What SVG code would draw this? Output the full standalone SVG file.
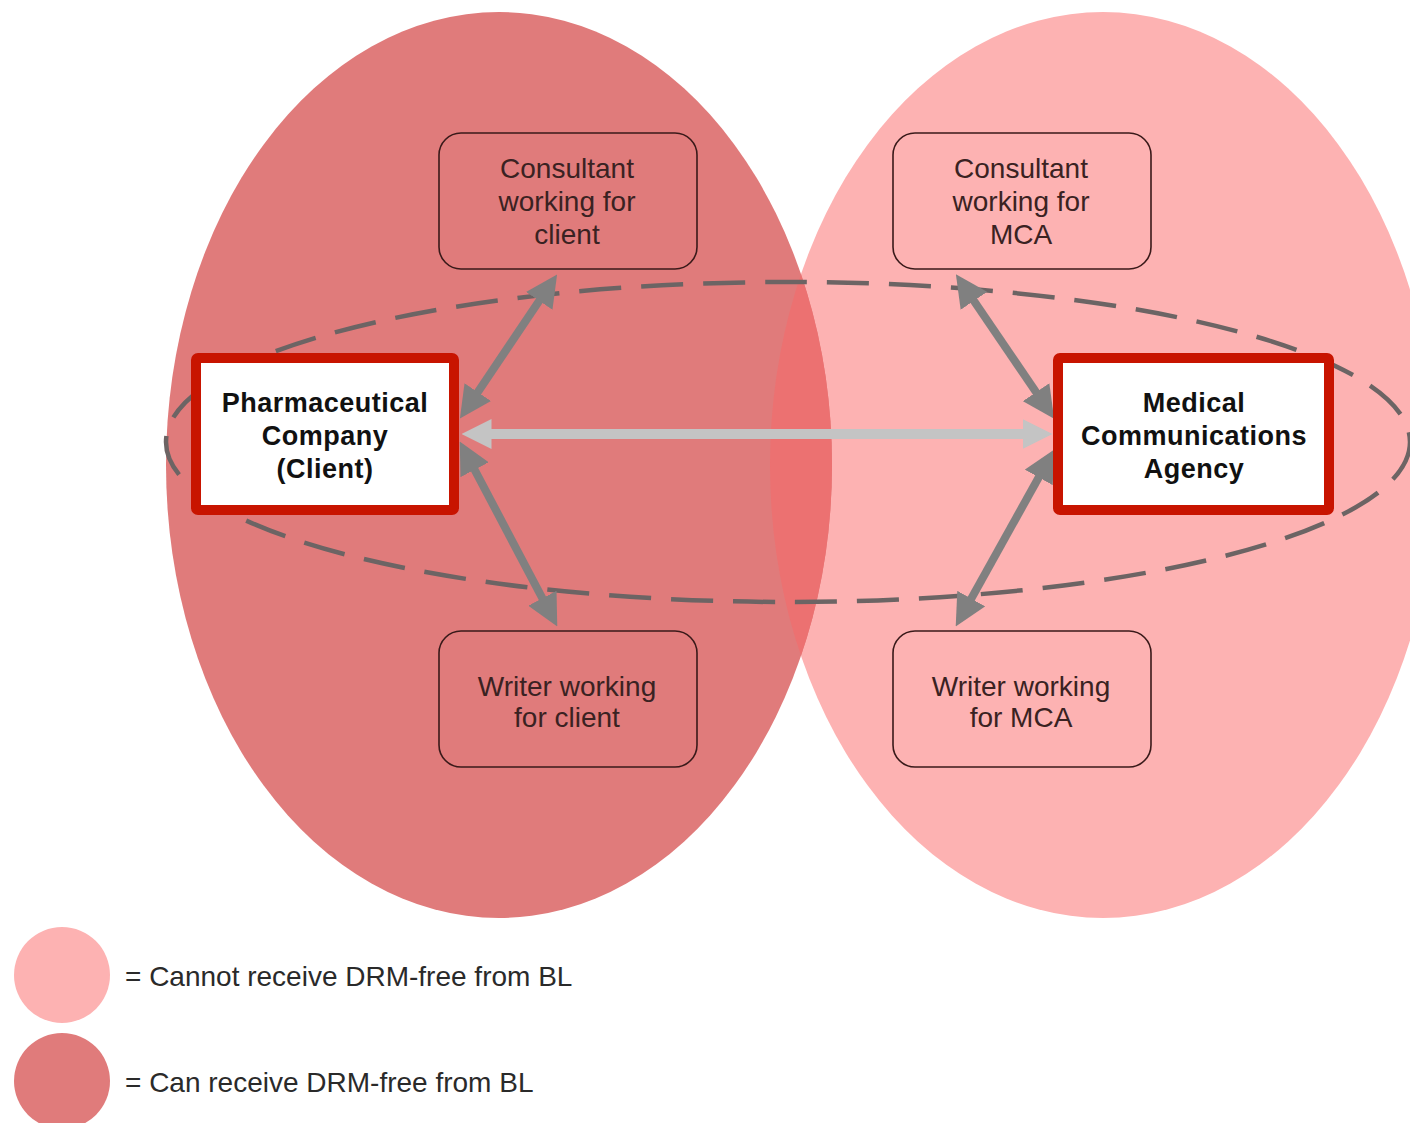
<svg xmlns="http://www.w3.org/2000/svg" width="1410" height="1123" viewBox="0 0 1410 1123">
  <style>
    .txt { font-family: "Liberation Sans", Arial, sans-serif; font-size: 28px; fill: #3a2222; text-anchor: middle; }
    .bold { font-family: "Liberation Sans", Arial, sans-serif; font-size: 27px; font-weight: bold; fill: #111; text-anchor: middle; letter-spacing: 0.5px; }
    .legend { font-family: "Liberation Sans", Arial, sans-serif; font-size: 28px; fill: #2a2a2a; }
    .role { fill: none; stroke: #3a1a1a; stroke-width: 1.6; }
    .key { fill: #fff; stroke: #c81400; stroke-width: 10; }
    .link { stroke: #808080; stroke-width: 8; fill: none; marker-start: url(#headDark); marker-end: url(#headDark); }
    .main { stroke: #c4c4c4; stroke-width: 10; fill: none; marker-start: url(#headLight); marker-end: url(#headLight); }
  </style>
  <defs>
    <marker id="headDark" viewBox="0 0 10 10" refX="0.5" refY="5" markerWidth="4" markerHeight="4" orient="auto-start-reverse">
      <path d="M0,0 L10,5 L0,10 z" fill="#808080"/>
    </marker>
    <marker id="headLight" viewBox="0 0 10 10" refX="0.5" refY="5" markerWidth="3" markerHeight="3.4" orient="auto-start-reverse">
      <path d="M0,0 L10,5 L0,10 z" fill="#c4c4c4"/>
    </marker>
    <clipPath id="leftZone">
      <ellipse cx="499" cy="465" rx="333" ry="453"/>
    </clipPath>
  </defs>

  <rect width="1410" height="1123" fill="#ffffff"/>

  <!-- zones -->
  <g id="zones">
    <ellipse cx="1103" cy="465" rx="333" ry="453" fill="#fdb2b2"/>
    <ellipse cx="499" cy="465" rx="333" ry="453" fill="#e07b7b"/>
    <ellipse cx="1103" cy="465" rx="333" ry="453" fill="#ec7171" clip-path="url(#leftZone)"/>
  </g>

  <!-- dashed grouping ring -->
  <ellipse id="ring" cx="788" cy="442" rx="622" ry="160" fill="none" stroke="#6c6464" stroke-width="4.5" stroke-dasharray="42 20"/>

  <!-- connectors -->
  <g id="connectors">
    <line class="main" x1="490" y1="434" x2="1024" y2="434"/>
    <line class="link" x1="476.9" y1="393.4" x2="540.1" y2="299.6"/>
    <line class="link" x1="473.9" y1="468.3" x2="543.1" y2="599.7"/>
    <line class="link" x1="1037.0" y1="393.5" x2="973.0" y2="299.5"/>
    <line class="link" x1="1039.5" y1="476.0" x2="970.5" y2="600.0"/>
  </g>

  <g id="consultant-client">
    <rect class="role" x="439" y="133" width="258" height="136" rx="22"/>
    <text class="txt" x="567" y="178">Consultant</text>
    <text class="txt" x="567" y="211">working for</text>
    <text class="txt" x="567" y="244">client</text>
  </g>

  <g id="writer-client">
    <rect class="role" x="439" y="631" width="258" height="136" rx="22"/>
    <text class="txt" x="567" y="696">Writer working</text>
    <text class="txt" x="567" y="727">for client</text>
  </g>

  <g id="consultant-mca">
    <rect class="role" x="893" y="133" width="258" height="136" rx="22"/>
    <text class="txt" x="1021" y="178">Consultant</text>
    <text class="txt" x="1021" y="211">working for</text>
    <text class="txt" x="1021" y="244">MCA</text>
  </g>

  <g id="writer-mca">
    <rect class="role" x="893" y="631" width="258" height="136" rx="22"/>
    <text class="txt" x="1021" y="696">Writer working</text>
    <text class="txt" x="1021" y="727">for MCA</text>
  </g>

  <g id="pharma">
    <rect class="key" x="196" y="358" width="258" height="152" rx="2"/>
    <text class="bold" x="325" y="412">Pharmaceutical</text>
    <text class="bold" x="325" y="445">Company</text>
    <text class="bold" x="325" y="478">(Client)</text>
  </g>

  <g id="agency">
    <rect class="key" x="1058" y="358" width="271" height="152" rx="2"/>
    <text class="bold" x="1194" y="412">Medical</text>
    <text class="bold" x="1194" y="445">Communications</text>
    <text class="bold" x="1194" y="478">Agency</text>
  </g>

  <!-- legend -->
  <g id="legend">
    <circle cx="62" cy="975" r="48" fill="#fdb2b2"/>
    <text class="legend" x="125" y="986">= Cannot receive DRM-free from BL</text>
    <circle cx="62" cy="1081" r="48" fill="#e07b7b"/>
    <text class="legend" x="125" y="1092">= Can receive DRM-free from BL</text>
  </g>
</svg>
